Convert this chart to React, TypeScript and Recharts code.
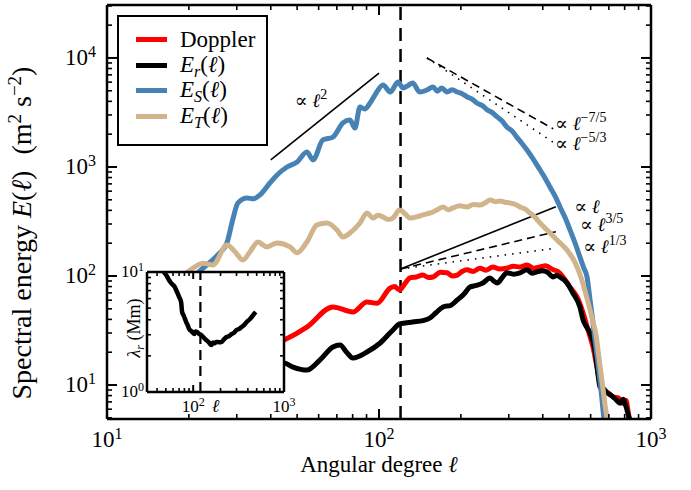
import React from 'react';
import {
  LineChart,
  Line,
  XAxis,
  YAxis,
  ReferenceLine,
  ReferenceDot,
  Legend,
  CartesianGrid,
} from 'recharts';

const SERIF = '"Liberation Serif", "DejaVu Serif", "Times New Roman", serif';

// ---------- main axes ----------
const X_DOMAIN: [number, number] = [10, 1000];
const Y_DOMAIN: [number, number] = [4.88, 30600];
const X_TICKS = [10, 20, 30, 40, 50, 60, 70, 80, 90, 100, 200, 300, 400, 500, 600, 700, 800, 900, 1000];
const Y_TICKS = [
  5, 6, 7, 8, 9, 10, 20, 30, 40, 50, 60, 70, 80, 90, 100, 200, 300, 400, 500, 600, 700, 800, 900,
  1000, 2000, 3000, 4000, 5000, 6000, 7000, 8000, 9000, 10000, 20000, 30000,
];
const DIVIDER_L = 120;

// ---------- series (angular degree l, spectral energy E) ----------
const DOPPLER_PTS: [number, number][] = [
  [16, 12], [25, 16], [35, 20], [40, 23], [44.8, 25.9], [54.3, 34], [67.7, 52], [80.2, 46.8],
  [90.3, 57.7], [98.4, 56.3], [110, 77.6], [114, 80], [119, 74.4], [124, 84], [130, 96], [137, 98],
  [145, 102], [152, 97], [158, 98], [168, 108], [178, 107], [186, 100], [194, 102], [202, 110],
  [211, 114], [222, 110], [235, 118], [248, 113], [262, 121], [278, 116], [295, 118], [312, 123],
  [330, 121], [350, 126], [370, 118], [391, 121], [410, 124], [437, 114], [455, 110], [475, 98],
  [504, 79], [535, 64], [563, 45.8], [587, 32], [612, 22.3], [633, 14.6], [660, 9], [690, 8.6],
  [725, 7.8], [760, 7.6], [789, 6.8], [810, 7.2], [822, 5.9], [835, 4.6],
];

const ER_PTS: [number, number][] = [
  [16, 9], [22, 11], [30, 13], [38, 15], [44.8, 15.9], [48.3, 14.6], [54.3, 13.7], [60.7, 17],
  [67.7, 22.3], [71.9, 23.3], [76, 20], [80.2, 17.7], [90.3, 20.1], [101, 24.3], [112.5, 32],
  [119, 36.3], [133, 37.9], [145, 39], [154, 41.2], [162, 46], [172, 52], [184, 54], [194, 60.3],
  [205, 68], [216, 79.2], [228, 82], [241, 86.3], [256, 96], [264, 90], [272, 86.3], [284, 97],
  [295, 107], [312, 104], [330, 107], [350, 114], [365, 106], [381, 109], [398, 112], [415, 109],
  [437, 98], [450, 101], [463, 98], [491, 86.3], [516, 69.8], [548, 52], [563, 39.5], [580, 34],
  [597, 30], [622, 20.9], [640, 12], [649, 9.6], [670, 9.2], [689, 8.5], [705, 8.2], [725, 7.8],
  [745, 7.3], [769, 6.8], [790, 7.4], [802, 6.8], [812, 6.2], [822, 5.5], [850, 4.3],
];

const ES_PTS: [number, number][] = [
  [16, 45], [19, 80], [22, 112], [24, 135], [25.8, 160], [27.6, 201], [29, 330], [30.3, 468],
  [32.7, 520], [34.5, 510], [36.5, 554], [39.7, 713], [42.2, 845], [45.9, 1000], [50, 1110],
  [54.3, 1375], [57.2, 1160], [62.2, 1770], [67.7, 1880], [73.7, 2540], [78.2, 2700], [81.6, 2280],
  [85.1, 3550], [88.5, 3400], [92.7, 3860], [96.6, 4570], [103.5, 5650], [110, 4870],
  [117.5, 6020], [122.5, 5310], [128, 5600], [133, 5900], [141, 4870], [150, 5080], [158, 5420],
  [164, 4950], [170, 5300], [178, 4870], [186, 5100], [194, 4870], [202, 4700], [211, 4390],
  [220, 4200], [229, 3860], [240, 3650], [250, 3340], [261, 3150], [272, 2880], [283, 2650],
  [295, 2330], [308, 2150], [321, 1880], [335, 1650], [350, 1430], [370, 1170], [391, 938],
  [408, 790], [425, 656], [444, 540], [463, 430], [484, 340], [504, 264], [526, 200], [548, 149],
  [565, 120], [582, 98], [597, 60], [610, 40], [622, 26], [636, 17], [649, 11.1], [660, 7.5],
  [671, 4.9], [685, 3.5],
];

const ET_PTS: [number, number][] = [
  [16, 70], [19, 100], [20.7, 118], [22.6, 131], [24.5, 126], [27.6, 192], [29.6, 166],
  [31.6, 140], [33.5, 166], [35.9, 205], [38.7, 185], [42.2, 201], [47.1, 185], [50, 163],
  [54.3, 205], [59.2, 294], [64.4, 306], [70.1, 264], [73.7, 228], [78.2, 248], [85.1, 306],
  [90.3, 378], [95, 340], [99, 360], [103.5, 348], [108, 330], [112.5, 340], [119, 403],
  [125, 370], [130, 340], [141, 355], [150, 372], [158, 386], [165, 410], [172, 430], [180, 405],
  [187, 421], [198, 440], [211, 430], [222, 452], [235, 448], [246, 470], [256, 498], [268, 480],
  [279, 488], [290, 475], [303, 468], [316, 455], [330, 430], [345, 410], [359, 378], [375, 345],
  [391, 306], [415, 264], [451, 214], [491, 173], [525, 134], [557, 92], [580, 64], [597, 48.8],
  [612, 38], [628, 28.8], [640, 20], [649, 15.2], [667, 9], [678, 6.5], [689, 4.9], [700, 3.8],
];

// ---------- inset: radial wavelength lambda_r (Mm) vs l ----------
const INSET_X_DOMAIN: [number, number] = [31, 1000];
const INSET_Y_DOMAIN: [number, number] = [1, 10];
const INSET_X_TICKS = [40, 50, 60, 70, 80, 90, 100, 200, 300, 400, 500, 600, 700, 800, 900, 1000];
const INSET_Y_TICKS = [1, 2, 3, 4, 5, 6, 7, 8, 9, 10];
const LAMBDA_PTS: [number, number][] = [
  [44, 11.5], [47.6, 10], [51, 9.3], [54.1, 8.58], [58.4, 7.94], [62, 7.6], [66.4, 6.81],
  [70, 6.2], [73.6, 5.62], [75.5, 4.64], [79, 4.3], [83.6, 3.83], [87, 3.6], [90.3, 3.35],
  [96, 3.2], [102.6, 3.04], [106, 3.2], [110.8, 3.16], [116, 3.05], [122.6, 2.99], [130, 2.85],
  [139.4, 2.71], [148, 2.6], [158.5, 2.46], [165, 2.58], [172, 2.55], [180, 2.61], [192, 2.6],
  [205, 2.61], [218, 2.75], [233, 2.87], [248, 2.92], [264, 3.04], [282, 3.12], [300, 3.29],
  [320, 3.35], [341, 3.48], [365, 3.62], [388, 3.83], [414, 4.0], [441, 4.22], [465, 4.45],
  [489, 4.64],
];

// ---------- power-law guides ----------
const GUIDES = [
  { from: [40, 1160], to: [100, 7250], dash: undefined },
  { from: [150, 10000], to: [437, 2240], dash: '8 5' },
  { from: [150, 10000], to: [437, 1683], dash: '1.5 6' },
  { from: [120, 116], to: [447, 432], dash: undefined },
  { from: [120, 116], to: [447, 255], dash: '8 5' },
  { from: [120, 116], to: [440, 179], dash: '1.5 6' },
];
const GUIDE_LABELS = [
  { l: 49, e: 3550, exp: '2' },
  { l: 444, e: 2180, exp: '\u22127/5' },
  { l: 444, e: 1430, exp: '\u22125/3' },
  { l: 522, e: 378, exp: '' },
  { l: 548, e: 256, exp: '3/5' },
  { l: 563, e: 164, exp: '1/3' },
];

const LEGEND_ITEMS = [
  { key: 'doppler', color: '#ff0000', sub: '' },
  { key: 'er', color: '#000000', sub: 'r' },
  { key: 'es', color: '#4682b4', sub: 'S' },
  { key: 'et', color: '#d2b48c', sub: 'T' },
];

const rows = (pts: [number, number][]) => pts.map(([l, e]) => ({ l, e }));
const DOPPLER = rows(DOPPLER_PTS);
const E_R = rows(ER_PTS);
const E_S = rows(ES_PTS);
const E_T = rows(ET_PTS);
const LAMBDA_R = LAMBDA_PTS.map(([l, lam]) => ({ l, lam }));

// ---------- helpers ----------
const isMajor = (v: number) => Math.abs(Math.log10(v) - Math.round(Math.log10(v))) < 1e-6;
const expOf = (v: number) => Math.round(Math.log10(v));

function Pow10(props: any) {
  const { x, y, exp, anchor, fs, sfs, rise } = props;
  return (
    <text x={x} y={y} textAnchor={anchor} fontFamily={SERIF} fontSize={fs} fill="#000">
      10
      <tspan dy={-rise} fontSize={sfs}>
        {exp}
      </tspan>
    </text>
  );
}

type TickCfg = {
  major: number;
  minor: number;
  labels: boolean;
  fs: number;
  sfs: number;
  rise: number;
  dx: number;
  dy: number;
};

const makeTick = (side: 'bottom' | 'top' | 'left' | 'right', cfg: TickCfg) => (props: any) => {
  const { x, y, payload } = props;
  const v = payload.value;
  const M = isMajor(v);
  const len = M ? cfg.major : cfg.minor;
  const sw = M ? 2 : 1.6;
  let line: any = null;
  if (side === 'bottom') line = <line x1={x} x2={x} y1={y} y2={y - len} stroke="#000" strokeWidth={sw} />;
  if (side === 'top') line = <line x1={x} x2={x} y1={y} y2={y + len} stroke="#000" strokeWidth={sw} />;
  if (side === 'left') line = <line x1={x} x2={x + len} y1={y} y2={y} stroke="#000" strokeWidth={sw} />;
  if (side === 'right') line = <line x1={x} x2={x - len} y1={y} y2={y} stroke="#000" strokeWidth={sw} />;
  let label: any = null;
  if (cfg.labels && M) {
    if (side === 'bottom')
      label = <Pow10 x={x} y={y + cfg.dy} exp={expOf(v)} anchor="middle" fs={cfg.fs} sfs={cfg.sfs} rise={cfg.rise} />;
    if (side === 'left')
      label = <Pow10 x={x - cfg.dx} y={y + cfg.dy} exp={expOf(v)} anchor="end" fs={cfg.fs} sfs={cfg.sfs} rise={cfg.rise} />;
  }
  return (
    <g>
      {line}
      {label}
    </g>
  );
};

const MAIN_CFG = { major: 10, minor: 5, fs: 23, sfs: 16, rise: 8 };
const mainBottom = makeTick('bottom', { ...MAIN_CFG, labels: true, dx: 0, dy: 28 });
const mainTop = makeTick('top', { ...MAIN_CFG, labels: false, dx: 0, dy: 0 });
const mainLeft = makeTick('left', { ...MAIN_CFG, labels: true, dx: 11, dy: 7 });
const mainRight = makeTick('right', { ...MAIN_CFG, labels: false, dx: 0, dy: 0 });

const INSET_CFG = { major: 7, minor: 4, fs: 17, sfs: 12, rise: 6 };
const insetBottom = makeTick('bottom', { ...INSET_CFG, labels: true, dx: 0, dy: 20 });
const insetTop = makeTick('top', { ...INSET_CFG, labels: false, dx: 0, dy: 0 });
const insetLeft = makeTick('left', { ...INSET_CFG, labels: true, dx: 3, dy: 5 });
const insetRight = makeTick('right', { ...INSET_CFG, labels: false, dx: 0, dy: 0 });

const AXIS_LINE = { stroke: '#000', strokeWidth: 2.5 };

function XTitle(props: any) {
  const vb = props.viewBox;
  return (
    <text x={vb.x + vb.width / 2} y={vb.y + 53} textAnchor="middle" fontFamily={SERIF} fontSize={23} fill="#000">
      Angular degree <tspan fontStyle="italic">ℓ</tspan>
    </text>
  );
}

function YTitle(props: any) {
  const vb = props.viewBox;
  const cx = vb.x + 31;
  const cy = vb.y + vb.height / 2 + 21;
  return (
    <text
      x={cx}
      y={cy}
      transform={`rotate(-90, ${cx}, ${cy})`}
      textAnchor="middle"
      fontFamily={SERIF}
      fontSize={28}
      fill="#000"
    >
      Spectral energy <tspan fontStyle="italic">E</tspan>(<tspan fontStyle="italic">ℓ</tspan>)
      <tspan dx={16}>(m</tspan>
      <tspan dy={-10} fontSize={19}>2</tspan>
      <tspan dy={10}> s</tspan>
      <tspan dy={-10} fontSize={19}>{'\u22122'}</tspan>
      <tspan dy={10}>)</tspan>
    </text>
  );
}

function InsetXTitle(props: any) {
  const vb = props.viewBox;
  return (
    <text x={vb.x + vb.width / 2} y={vb.y + 20} textAnchor="middle" fontFamily={SERIF} fontSize={18} fontStyle="italic" fill="#000">
      ℓ
    </text>
  );
}

function InsetYTitle(props: any) {
  const vb = props.viewBox;
  const cx = vb.x + 40;
  const cy = vb.y + vb.height / 2 - 4;
  return (
    <text x={cx} y={cy} transform={`rotate(-90, ${cx}, ${cy})`} textAnchor="middle" fontFamily={SERIF} fontSize={18} fill="#000">
      <tspan fontStyle="italic">λ</tspan>
      <tspan fontStyle="italic" fontSize={12} dy={4}>r</tspan>
      <tspan dy={-4}> (Mm)</tspan>
    </text>
  );
}

function GuideText(props: any) {
  const { cx, cy, exp } = props;
  return (
    <text x={cx} y={cy} fontFamily={SERIF} fontSize={19} fill="#000">
      {'\u221D '}
      <tspan fontStyle="italic">ℓ</tspan>
      {exp ? (
        <tspan dy={-8} fontSize={14}>
          {exp}
        </tspan>
      ) : null}
    </text>
  );
}

function LegendBox() {
  return (
    <div
      style={{
        width: 151,
        height: 131,
        boxSizing: 'border-box',
        border: '2px solid #000',
        background: '#fff',
        paddingTop: 10,
        fontFamily: SERIF,
        fontSize: 23,
        color: '#000',
      }}
    >
      {LEGEND_ITEMS.map((it) => (
        <div key={it.key} style={{ display: 'flex', alignItems: 'center', height: 25.5 }}>
          <div style={{ marginLeft: 17, width: 31, height: 5, background: it.color }} />
          <div style={{ marginLeft: 13, lineHeight: '25px', whiteSpace: 'nowrap' }}>
            {it.sub === '' ? (
              'Doppler'
            ) : (
              <span>
                <i>E</i>
                <i style={{ fontSize: 16, position: 'relative', top: 5 }}>{it.sub}</i>(<i>ℓ</i>)
              </span>
            )}
          </div>
        </div>
      ))}
    </div>
  );
}

const SERIES = [
  { key: 'doppler', data: DOPPLER, color: '#ff0000' },
  { key: 'er', data: E_R, color: '#000000' },
  { key: 'es', data: E_S, color: '#4682b4' },
  { key: 'et', data: E_T, color: '#d2b48c' },
];

export default function App() {
  return (
    <div style={{ position: 'absolute', left: 0, top: 0, width: 691, height: 490, background: '#fff' }}>
      <LineChart width={691} height={490} margin={{ top: 0, right: 0, bottom: 0, left: 0 }}>
        <XAxis
          xAxisId="b"
          dataKey="l"
          type="number"
          scale="log"
          domain={X_DOMAIN}
          allowDataOverflow
          ticks={X_TICKS}
          interval={0}
          tick={mainBottom}
          tickSize={0}
          tickMargin={0}
          tickLine={false}
          axisLine={AXIS_LINE}
          height={71}
          orientation="bottom"
          label={XTitle}
        />
        <XAxis
          xAxisId="t"
          dataKey="l"
          type="number"
          scale="log"
          domain={X_DOMAIN}
          allowDataOverflow
          ticks={X_TICKS}
          interval={0}
          tick={mainTop}
          tickSize={0}
          tickMargin={0}
          tickLine={false}
          axisLine={AXIS_LINE}
          height={5}
          orientation="top"
        />
        <YAxis
          yAxisId="l"
          type="number"
          scale="log"
          domain={Y_DOMAIN}
          allowDataOverflow
          ticks={Y_TICKS}
          interval={0}
          tick={mainLeft}
          tickSize={0}
          tickMargin={0}
          tickLine={false}
          axisLine={AXIS_LINE}
          width={107}
          orientation="left"
          label={YTitle}
        />
        <YAxis
          yAxisId="r"
          type="number"
          scale="log"
          domain={Y_DOMAIN}
          allowDataOverflow
          ticks={Y_TICKS}
          interval={0}
          tick={mainRight}
          tickSize={0}
          tickMargin={0}
          tickLine={false}
          axisLine={AXIS_LINE}
          width={40}
          orientation="right"
        />
        <ReferenceLine xAxisId="b" yAxisId="l" x={DIVIDER_L} stroke="#000" strokeWidth={2.5} strokeDasharray="13 8" />
        {GUIDES.map((g, i) => (
          <ReferenceLine
            key={'g' + i}
            xAxisId="b"
            yAxisId="l"
            segment={[
              { x: g.from[0], y: g.from[1] },
              { x: g.to[0], y: g.to[1] },
            ]}
            stroke="#000"
            strokeWidth={1.6}
            strokeDasharray={g.dash}
          />
        ))}
        {GUIDE_LABELS.map((g, i) => (
          <ReferenceDot
            key={'gl' + i}
            xAxisId="b"
            yAxisId="l"
            x={g.l}
            y={g.e}
            r={1}
            shape={(p: any) => <GuideText cx={p.cx} cy={p.cy} exp={g.exp} />}
          />
        ))}
        {SERIES.map((s) => (
          <Line
            key={s.key}
            xAxisId="b"
            yAxisId="l"
            data={s.data}
            dataKey="e"
            name={s.key}
            type="monotoneX"
            stroke={s.color}
            strokeWidth={5}
            strokeLinejoin="round"
            dot={false}
            activeDot={false}
            isAnimationActive={false}
          />
        ))}
        <Legend
          layout="vertical"
          align="center"
          verticalAlign="middle"
          content={LegendBox}
          wrapperStyle={{ left: 117, top: 15, width: 151, height: 131 }}
        />
      </LineChart>

      <div style={{ position: 'absolute', left: 100, top: 260 }}>
        <LineChart width={200} height={160} margin={{ top: 0, right: 0, bottom: 0, left: 0 }}>
          <CartesianGrid xAxisId="b" yAxisId="l" fill="#fff" horizontal={false} vertical={false} />
          <XAxis
            xAxisId="b"
            dataKey="l"
            type="number"
            scale="log"
            domain={INSET_X_DOMAIN}
            allowDataOverflow
            ticks={INSET_X_TICKS}
            interval={0}
            tick={insetBottom}
            tickSize={0}
            tickMargin={0}
            tickLine={false}
            axisLine={AXIS_LINE}
            height={28}
            orientation="bottom"
            label={InsetXTitle}
          />
          <XAxis
            xAxisId="t"
            dataKey="l"
            type="number"
            scale="log"
            domain={INSET_X_DOMAIN}
            allowDataOverflow
            ticks={INSET_X_TICKS}
            interval={0}
            tick={insetTop}
            tickSize={0}
            tickMargin={0}
            tickLine={false}
            axisLine={AXIS_LINE}
            height={12}
            orientation="top"
          />
          <YAxis
            yAxisId="l"
            type="number"
            scale="log"
            domain={INSET_Y_DOMAIN}
            allowDataOverflow
            ticks={INSET_Y_TICKS}
            interval={0}
            tick={insetLeft}
            tickSize={0}
            tickMargin={0}
            tickLine={false}
            axisLine={AXIS_LINE}
            width={47}
            orientation="left"
            label={InsetYTitle}
          />
          <YAxis
            yAxisId="r"
            type="number"
            scale="log"
            domain={INSET_Y_DOMAIN}
            allowDataOverflow
            ticks={INSET_Y_TICKS}
            interval={0}
            tick={insetRight}
            tickSize={0}
            tickMargin={0}
            tickLine={false}
            axisLine={AXIS_LINE}
            width={16}
            orientation="right"
          />
          <ReferenceLine xAxisId="b" yAxisId="l" x={DIVIDER_L} stroke="#000" strokeWidth={2.2} strokeDasharray="10 6" />
          <Line
            xAxisId="b"
            yAxisId="l"
            data={LAMBDA_R}
            dataKey="lam"
            type="monotoneX"
            stroke="#000"
            strokeWidth={4.5}
            strokeLinejoin="round"
            dot={false}
            activeDot={false}
            isAnimationActive={false}
          />
        </LineChart>
      </div>
    </div>
  );
}
